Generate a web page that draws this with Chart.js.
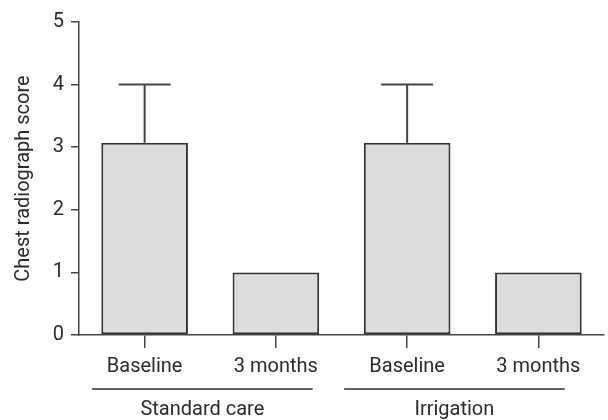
<!DOCTYPE html>
<html>
<head>
<meta charset="utf-8">
<script src="https://cdn.jsdelivr.net/npm/chart.js@4/dist/chart.umd.min.js"></script>
<style>
  html, body { margin: 0; padding: 0; background: #fff; }
  #wrap { width: 608px; height: 420px; }
</style>
</head>
<body>
<div id="wrap"><canvas id="c" width="608" height="420"></canvas></div>
<script>
// Time points on the x axis, and the treatment arm each one belongs to
const timepoints = ['Baseline', '3 months', 'Baseline', '3 months'];
const groupNames = ['Standard care', 'Irrigation'];
const groupOfBar = [0, 0, 1, 1];

// Mean chest radiograph score and upper end of its error bar
const meanScore = [3.07, 1.0, 3.07, 1.0];
const errorTop = [4, null, 4, null];

// Y axis range and tick step
const yMin = 0, yMax = 5, yStep = 1;

const FONT = 'Roboto';
const INK = '#2b2b2b';

// Draws the upward error bars with caps
const errorBarPlugin = {
  id: 'errorBars',
  afterDatasetsDraw(chart) {
    const { ctx, scales: { x, y } } = chart;
    const meta = chart.getDatasetMeta(0);
    ctx.save();
    ctx.strokeStyle = '#444';
    ctx.lineWidth = 2;
    errorTop.forEach((top, i) => {
      if (top == null) return;
      const bar = meta.data[i];
      const cx = bar.x;
      const yFrom = y.getPixelForValue(meanScore[i]);
      const yTo = y.getPixelForValue(top);
      const half = bar.width * 0.3;
      ctx.beginPath();
      ctx.moveTo(cx, yFrom);
      ctx.lineTo(cx, yTo);
      ctx.moveTo(cx - half, yTo);
      ctx.lineTo(cx + half, yTo);
      ctx.stroke();
    });
    ctx.restore();
  }
};

// Draws the treatment-arm rules and names under the time point labels
const groupLabelPlugin = {
  id: 'groupLabels',
  afterDraw(chart, args, opts) {
    const { ctx, scales: { x } } = chart;
    const step = x.getPixelForValue(1) - x.getPixelForValue(0);
    ctx.save();
    groupNames.forEach((name, g) => {
      const idx = groupOfBar.map((v, i) => v === g ? i : -1).filter(i => i >= 0);
      const px = idx.map(i => x.getPixelForValue(i));
      const mid = (Math.min(...px) + Math.max(...px)) / 2 + opts.shift[g] * step;
      const half = opts.halfWidth * step;
      ctx.strokeStyle = INK;
      ctx.lineWidth = 1.5;
      ctx.beginPath();
      ctx.moveTo(mid - half, opts.lineY);
      ctx.lineTo(mid + half, opts.lineY);
      ctx.stroke();
      ctx.fillStyle = INK;
      ctx.font = opts.fontSize + 'px ' + FONT;
      ctx.textAlign = 'center';
      ctx.textBaseline = 'middle';
      ctx.fillText(name, mid, opts.textY);
    });
    ctx.restore();
  }
};

new Chart(document.getElementById('c'), {
  type: 'bar',
  data: {
    labels: timepoints,
    datasets: [{
      data: meanScore,
      backgroundColor: '#dcdcde',
      borderColor: '#333',
      borderWidth: 2,
      borderSkipped: false,
      barPercentage: 0.66,
      categoryPercentage: 1.0
    }]
  },
  options: {
    responsive: false,
    animation: false,
    layout: { padding: { top: 22, right: 4, left: 0, bottom: 0 } },
    plugins: {
      legend: { display: false },
      tooltip: { enabled: false },
      groupLabels: { lineY: 389, textY: 410, fontSize: 20, halfWidth: 0.84, shift: [-0.06, -0.14] }
    },
    scales: {
      x: {
        grid: { drawOnChartArea: false, offset: false, tickLength: 13, color: '#444', lineWidth: 1.5 },
        border: { display: true, color: '#444', width: 1.5 },
        ticks: { color: INK, font: { family: FONT, size: 20 }, padding: 7, maxRotation: 0 },
        afterFit(scale) { scale.height = 85; }
      },
      y: {
        min: yMin, max: yMax,
        grid: { drawOnChartArea: false, tickLength: 8, color: '#444', lineWidth: 1.5 },
        border: { display: true, color: '#444', width: 1.5 },
        ticks: { stepSize: yStep, color: INK, font: { family: FONT, size: 20 }, padding: 7 },
        title: { display: true, text: 'Chest radiograph score', color: INK, font: { family: FONT, size: 20 }, padding: { top: 12, bottom: 0 } },
        afterFit(scale) { scale.width = 79; }
      }
    }
  },
  plugins: [errorBarPlugin, groupLabelPlugin]
});
</script>
</body>
</html>
